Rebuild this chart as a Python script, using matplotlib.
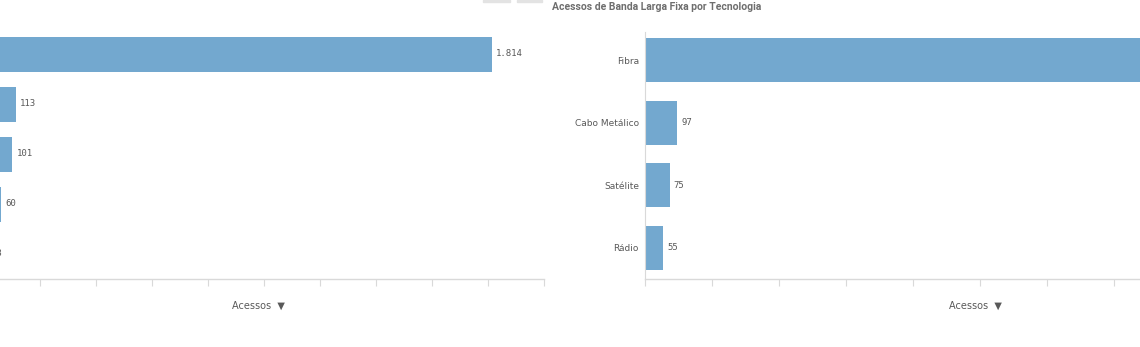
import numpy as np
import matplotlib.pyplot as plt
from matplotlib.patches import Rectangle

# data
left_values = [1814, 113, 101, 60, 13]
left_labels = ['1.814', '113', '101', '60', '13']
right_cats = ['Fibra', 'Cabo Metálico', 'Satélite', 'Rádio']
right_values = [1874, 97, 75, 55]
# Fibra label sits beyond the visible area in the screenshot
right_labels = ['', '97', '75', '55']

title = 'Acessos de Banda Larga Fixa por Tecnologia'
xlabel = 'Acessos  \u25BC'

W, H = 1140, 347
bar_col = '#73a8cf'
grid_col = '#d9d9d9'
txt_col = '#595959'

fig = plt.figure(figsize=(W/100, H/100), dpi=100)

def px_axes(x0, x1, ytop, ybot):
    return fig.add_axes([x0/W, (H-ybot)/H, (x1-x0)/W, (ybot-ytop)/H])

def style(ax):
    for s in ['top', 'right', 'left']:
        ax.spines[s].set_visible(False)
    ax.spines['bottom'].set_color(grid_col)
    ax.spines['bottom'].set_linewidth(1)
    ax.set_xlim(0, 2000)
    ax.set_xticks(np.arange(0, 2001, 200))
    ax.tick_params(axis='x', direction='out', length=5, color=grid_col,
                   labelbottom=False)
    ax.patch.set_alpha(0)

# left chart (cut at the left edge)
ax1 = px_axes(-16, 544, 29, 279)
y1 = np.arange(len(left_values))
ax1.barh(y1, left_values, height=0.7, color=bar_col)
ax1.set_ylim(len(left_values)-0.5, -0.5)
ax1.set_yticks([])
style(ax1)
for yi, v, lab in zip(y1, left_values, left_labels):
    ax1.annotate(lab, (v, yi), xytext=(3, 0), textcoords='offset points',
                 va='center', ha='left', fontsize=6.5, color=txt_col,
                 family='DejaVu Sans Mono')

# right chart (cut at the right edge)
ax2 = px_axes(644.5, 644.5 + 670, 29, 279)
y2 = np.arange(len(right_values))
ax2.barh(y2, right_values, height=0.7, color=bar_col)
ax2.set_ylim(len(right_values)-0.5, -0.5)
ax2.set_yticks(y2)
ax2.set_yticklabels(right_cats, fontsize=6.5, color=txt_col)
ax2.tick_params(axis='y', length=0, pad=4)
style(ax2)
ax2.spines['left'].set_visible(True)
ax2.spines['left'].set_color(grid_col)
ax2.spines['left'].set_bounds(-0.45, len(right_values)-0.5)
for yi, v, lab in zip(y2, right_values, right_labels):
    if lab:
        ax2.annotate(lab, (v, yi), xytext=(3, 0), textcoords='offset points',
                     va='center', ha='left', fontsize=6.5, color=txt_col,
                     family='DejaVu Sans Mono')

# axis titles
fig.text(258/W, 1-306/H, xlabel, ha='center', va='center', fontsize=7, color=txt_col)
fig.text(975/W, 1-306/H, xlabel, ha='center', va='center', fontsize=7, color=txt_col)

# chart title and little grey buttons
fig.text(657/W, 1-7/H, title, ha='center', va='center', fontsize=7.5,
         fontweight='bold', color='#6e6e6e', family=['Roboto', 'DejaVu Sans'])
fig.patches.append(Rectangle((483/W, 1-2/H), 27/W, 2/H, transform=fig.transFigure,
                             color='#e3e3e3'))
fig.patches.append(Rectangle((517/W, 1-2/H), 25/W, 2/H, transform=fig.transFigure,
                             color='#e3e3e3'))

plt.savefig('out.png', dpi=100)
